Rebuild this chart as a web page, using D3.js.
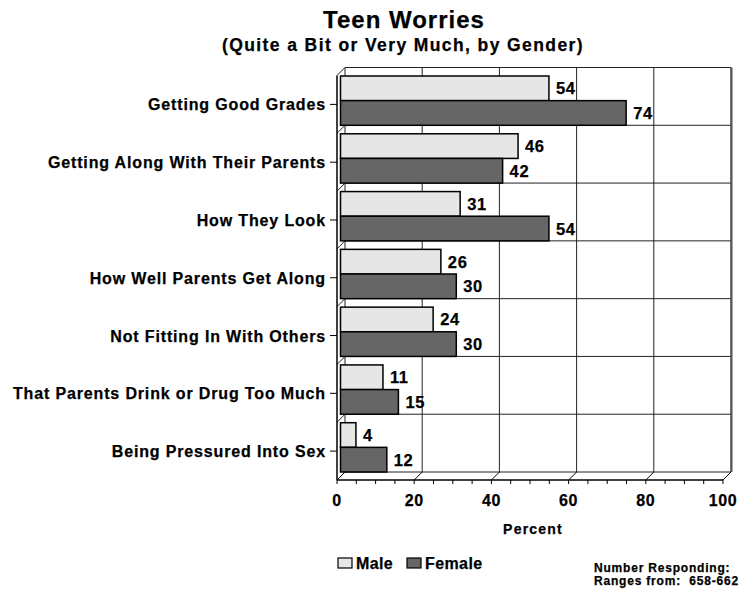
<!DOCTYPE html>
<html>
<head>
<meta charset="utf-8">
<script src="https://cdn.jsdelivr.net/npm/d3@7"></script>
<style>
html, body { margin: 0; padding: 0; background: #fff; }
text { font-family: "Liberation Sans", Arial, sans-serif; font-weight: bold; fill: #000; stroke: #000; stroke-width: 0.25px; }
</style>
</head>
<body>
<svg id="chart" width="740" height="590"></svg>
<script>
const categories = [
  "Getting Good Grades",
  "Getting Along With Their Parents",
  "How They Look",
  "How Well Parents Get Along",
  "Not Fitting In With Others",
  "That Parents Drink or Drug Too Much",
  "Being Pressured Into Sex"
];
const maleValues = [54, 46, 31, 26, 24, 11, 4];
const femaleValues = [74, 42, 54, 30, 30, 15, 12];
const seriesNames = ["Male", "Female"];
const xTicks = [0, 20, 40, 60, 80, 100];

const svg = d3.select("#chart");
const colors = { Male: "#e6e6e6", Female: "#666666" };

// geometry
const backX0 = 345, frontX0 = 337, barX0 = 340.5;
const plotTop = 67.5, plotBottom = 472, depth = 8;
const x = d3.scaleLinear().domain([0, 100]).range([0, 386]);
const y = d3.scaleBand().domain(categories).range([plotTop, plotBottom]).paddingInner(0).paddingOuter(0);
const bw = y.bandwidth();
const gap = 8.5;
const barH = (bw - gap) / 2;

const g = svg.append("g");
const lineCol = "#222";

// back wall vertical gridlines
g.selectAll(".vgrid").data(xTicks).join("line")
  .attr("x1", d => backX0 + x(d)).attr("x2", d => backX0 + x(d))
  .attr("y1", plotTop).attr("y2", plotBottom)
  .attr("stroke", lineCol).attr("stroke-width", 1);

// back wall horizontal lines (band boundaries)
const bounds = categories.map(c => y(c)).concat([plotBottom]);
g.selectAll(".hgrid").data(bounds).join("line")
  .attr("x1", backX0).attr("x2", backX0 + x(100))
  .attr("y1", d => d).attr("y2", d => d)
  .attr("stroke", lineCol).attr("stroke-width", 1);

// left wall diagonals at band boundaries
g.selectAll(".ldiag").data(bounds).join("line")
  .attr("x1", frontX0).attr("y1", d => d + depth)
  .attr("x2", backX0).attr("y2", d => d)
  .attr("stroke", lineCol).attr("stroke-width", 1);

// left wall front vertical
g.append("line").attr("x1", frontX0).attr("x2", frontX0)
  .attr("y1", plotTop + depth).attr("y2", plotBottom + depth)
  .attr("stroke", "#000").attr("stroke-width", 1.5);

// right edge of back wall (slightly heavier)
g.append("line").attr("x1", backX0 + x(100) + 0.5).attr("x2", backX0 + x(100) + 0.5)
  .attr("y1", plotTop).attr("y2", plotBottom)
  .attr("stroke", "#555").attr("stroke-width", 2);

// floor
g.append("line").attr("x1", frontX0).attr("x2", frontX0 + x(100))
  .attr("y1", plotBottom + depth).attr("y2", plotBottom + depth)
  .attr("stroke", "#000").attr("stroke-width", 1.5);
g.selectAll(".fdiag").data(xTicks).join("line")
  .attr("x1", d => frontX0 + x(d)).attr("y1", plotBottom + depth)
  .attr("x2", d => backX0 + x(d)).attr("y2", plotBottom)
  .attr("stroke", "#000").attr("stroke-width", 1);

// minor ticks below floor front edge
const minorTicks = d3.range(0, 101, 5);
g.selectAll(".mtick").data(minorTicks).join("line")
  .attr("x1", d => frontX0 + x(d)).attr("x2", d => frontX0 + x(d))
  .attr("y1", plotBottom + depth).attr("y2", plotBottom + depth + 4)
  .attr("stroke", "#000").attr("stroke-width", 1);

// left category ticks
g.selectAll(".ytick").data(categories).join("line")
  .attr("x1", frontX0 - 7).attr("x2", frontX0)
  .attr("y1", d => y(d) + depth + bw / 2).attr("y2", d => y(d) + depth + bw / 2)
  .attr("stroke", "#000").attr("stroke-width", 1);

// category labels
g.selectAll(".ylab").data(categories).join("text")
  .attr("x", 326).attr("y", d => y(d) + depth + bw / 2 + 6)
  .attr("text-anchor", "end")
  .attr("font-size", 16).attr("letter-spacing", 0.85)
  .text(d => d);

// bars
const rows = categories.map((c, i) => ({ c, male: maleValues[i], female: femaleValues[i] }));
rows.forEach(r => {
  [["Male", r.male, 0], ["Female", r.female, 1]].forEach(([s, v, k]) => {
    const yy = y(r.c) + gap + k * barH;
    g.append("rect")
      .attr("x", barX0).attr("y", yy)
      .attr("width", x(v)).attr("height", barH)
      .attr("fill", colors[s]).attr("stroke", "#000").attr("stroke-width", 1.5);
    g.append("text")
      .attr("x", barX0 + x(v) + 7).attr("y", yy + barH / 2 + 6)
      .attr("font-size", 16.5).attr("letter-spacing", 0.6)
      .text(v);
  });
});

// x tick labels
g.selectAll(".xlab").data(xTicks).join("text")
  .attr("x", d => frontX0 + x(d)).attr("y", 506)
  .attr("text-anchor", "middle")
  .attr("font-size", 16).attr("letter-spacing", 0.6)
  .text(d => d);

// axis title
svg.append("text").attr("x", 533).attr("y", 534).attr("text-anchor", "middle")
  .attr("font-size", 14).attr("letter-spacing", 1.2).text("Percent");

// titles
svg.append("text").attr("x", 404).attr("y", 28).attr("text-anchor", "middle")
  .attr("font-size", 24).attr("letter-spacing", 1.0).text("Teen Worries");
svg.append("text").attr("x", 403).attr("y", 51).attr("text-anchor", "middle")
  .attr("font-size", 17.5).attr("letter-spacing", 1.4).text("(Quite a Bit or Very Much, by Gender)");

// legend
const legX = [338, 407];
seriesNames.forEach((s, i) => {
  svg.append("rect").attr("x", legX[i]).attr("y", 558).attr("width", 14).attr("height", 10)
    .attr("fill", colors[s]).attr("stroke", "#000").attr("stroke-width", 1.2);
  svg.append("text").attr("x", legX[i] + 18).attr("y", 569)
    .attr("font-size", 16).attr("letter-spacing", 0.4).text(s);
});

// note
svg.append("text").attr("x", 594).attr("y", 572)
  .attr("font-size", 12).attr("letter-spacing", 0.8).text("Number Responding:");
svg.append("text").attr("x", 594).attr("y", 585)
  .attr("font-size", 12).attr("letter-spacing", 0.8).attr("xml:space", "preserve")
  .style("white-space", "pre").text("Ranges from:  658-662");
</script>
</body>
</html>
